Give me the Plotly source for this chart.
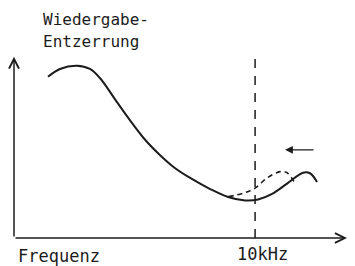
import plotly.graph_objects as go

# Solid equalization curve (frequency units 0-100, response units 0-100)
solid_x = [10.2, 13.8, 18.9, 22.8, 25.8, 30.3, 34.8, 39.3, 43.8, 48.3, 52.9, 58.9,
           64.3, 69.4, 73.3, 77.5, 82.0, 86.8, 88.9, 91.0]
solid_y = [88.9, 93.2, 95.0, 93.2, 88.2, 76.6, 65.0, 54.3, 45.8, 38.6, 33.1, 27.0,
           22.6, 20.7, 21.2, 24.3, 30.0, 36.0, 35.7, 30.9]

# Dashed (shifted) curve
dash_x = [64.4, 68.9, 72.4, 75.9, 79.9, 81.9, 84.4]
dash_y = [22.8, 24.7, 27.5, 33.0, 36.6, 36.1, 30.2]

marker_10k = 72.4
x_label = "Frequenz"
y_label_lines = ["Wiedergabe-", "Entzerrung"]
tick_label = "10kHz"

INK = "#1c1c1c"
FONT = "DejaVu Sans Mono"

# page offset compensation (browser body margin 8px)
OFF = 8
W, H = 355, 266
L, R, T, B = 14 - OFF, W - (347 - OFF), 53 - OFF, H - (238 - OFF)
PW, PH = W - L - R, H - T - B


def px(wx):
    return (wx - OFF - L) / PW


def py(wy):
    return (H - B - (wy - OFF)) / PH


fig = go.Figure()
fig.add_trace(go.Scatter(x=solid_x, y=solid_y, mode="lines",
                         line=dict(color=INK, width=2, shape="spline", smoothing=1.0),
                         hoverinfo="skip"))
fig.add_trace(go.Scatter(x=dash_x, y=dash_y, mode="lines",
                         line=dict(color=INK, width=1.6, dash="5px,4px", shape="spline", smoothing=1.0),
                         hoverinfo="skip"))

# vertical dashed marker at 10 kHz
fig.add_shape(type="line", x0=marker_10k, x1=marker_10k, y0=0, y1=101.5,
              xref="x", yref="y", line=dict(color=INK, width=1.5, dash="9px,8px"))

annotations = [
    dict(x=0, y=100, ax=0, ay=0, axref="x", ayref="y", xref="x", yref="y",
         text="", showarrow=True, arrowhead=5, arrowsize=1.3, arrowwidth=1.5,
         arrowcolor=INK, standoff=0),
    dict(x=100, y=0, ax=0, ay=0, axref="x", ayref="y", xref="x", yref="y",
         text="", showarrow=True, arrowhead=5, arrowsize=1.3, arrowwidth=1.5,
         arrowcolor=INK, standoff=0),
    dict(x=81.4, y=48.6, ax=90.4, ay=48.6, axref="x", ayref="y", xref="x", yref="y",
         text="", showarrow=True, arrowhead=2, arrowsize=1.2, arrowwidth=1.3,
         arrowcolor=INK, standoff=0),
    dict(x=px(41), y=py(19), xref="paper", yref="paper", xanchor="left", yanchor="middle",
         text=y_label_lines[0], showarrow=False, font=dict(family=FONT, size=16, color=INK)),
    dict(x=px(41), y=py(41), xref="paper", yref="paper", xanchor="left", yanchor="middle",
         text=y_label_lines[1], showarrow=False, font=dict(family=FONT, size=16, color=INK)),
    dict(x=px(16), y=py(256), xref="paper", yref="paper", xanchor="left", yanchor="middle",
         text=x_label, showarrow=False, font=dict(family=FONT, size=17, color=INK)),
    dict(x=px(262.5), y=py(254), xref="paper", yref="paper", xanchor="center", yanchor="middle",
         text=tick_label, showarrow=False, font=dict(family=FONT, size=17, color=INK)),
]

fig.update_layout(
    width=W, height=H,
    margin=dict(l=L, r=R, t=T, b=B),
    paper_bgcolor="white", plot_bgcolor="white",
    showlegend=False,
    xaxis=dict(range=[0, 100], visible=False, fixedrange=True),
    yaxis=dict(range=[0, 102], visible=False, fixedrange=True),
    annotations=annotations,
)

fig.write_html("out.html")
